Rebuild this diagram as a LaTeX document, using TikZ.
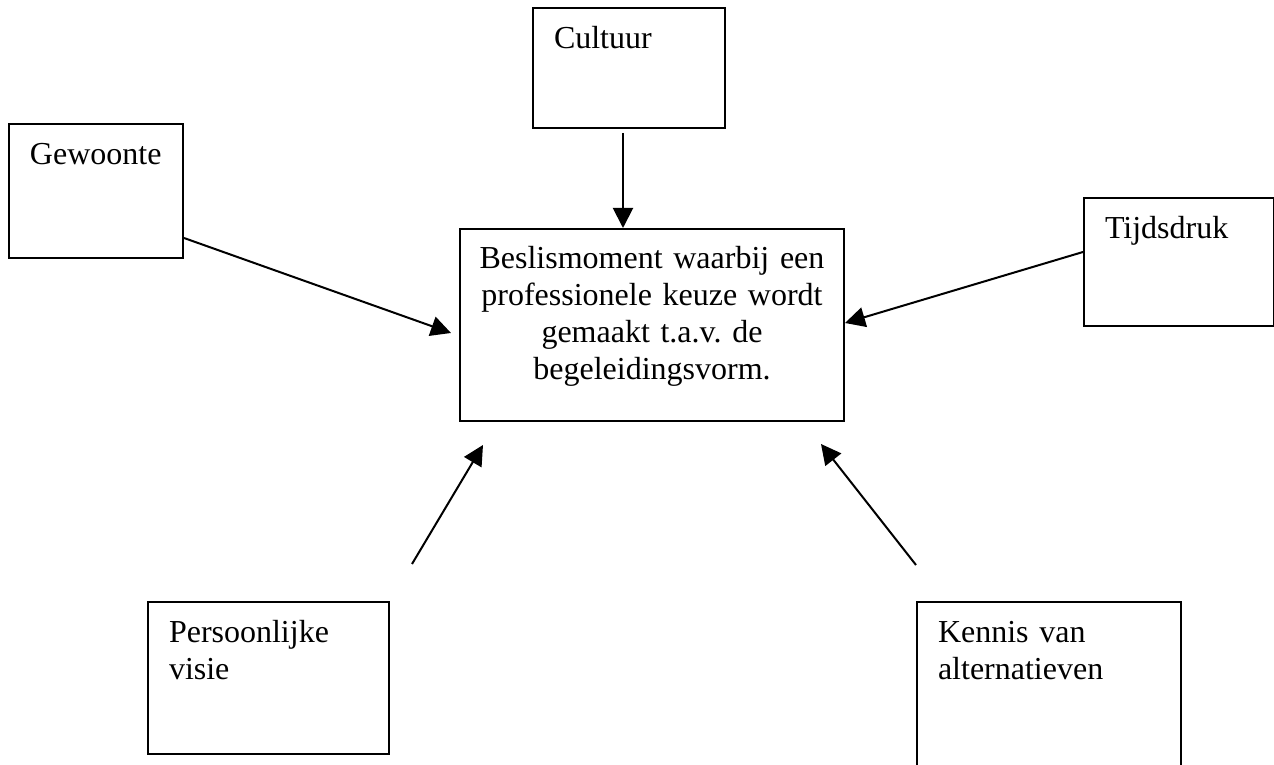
\documentclass[tikz,border=0pt]{standalone}
\usepackage{fontspec}
\setmainfont{Liberation Serif}
\usetikzlibrary{positioning, arrows.meta, calc}
\frenchspacing

\begin{document}
\begin{tikzpicture}[
    x=0.375pt, y=-0.375pt,
    factor/.style={
        rectangle, draw=black, line width=0.75pt, anchor=north west,
        inner xsep=7.875pt, inner ysep=0pt, align=left,
        text height=15.375pt, font=\fontsize{12pt}{13.8pt}\selectfont
    },
    decision/.style={
        factor, inner xsep=3.75pt, align=center, text height=15pt
    },
    influence/.style={-{Triangle[length=7.5pt, width=7.5pt]}, line width=0.75pt}
]
\useasboundingbox (0,0) rectangle (1274,765);
\clip (0,0) rectangle (1274,765);

% Central decision
\node[decision, text width=136.5pt, text depth=57pt] (central) at (459,228)
    {Beslismoment waarbij een\\professionele keuze wordt\\gemaakt t.a.v. de\\begeleidingsvorm.};

% Factors
\node[factor, text width=56.25pt, text depth=29.625pt] (cultuur) at (532,7) {Cultuur};
\node[factor, text width=49.5pt, text depth=34.875pt] (gewoonte) at (8,123) {Gewoonte};
\node[factor, text width=55.5pt, text depth=32.625pt] (tijdsdruk) at (1083,197) {Tijdsdruk};
\node[factor, text width=74.625pt, text depth=41.625pt] (visie) at (147,601) {Persoonlijke\\visie};
\node[factor, text width=83.25pt, text depth=59.625pt] (kennis) at (916,601) {Kennis van\\alternatieven};

% Free arrow ends
\coordinate (cultuur-out) at (623,133);
\coordinate (gewoonte-tip) at (451,333);
\coordinate (visie-out) at (412,564);
\coordinate (visie-tip) at (483,445);
\coordinate (kennis-tip) at (821,444);

% === Influences ===
\draw[influence] (cultuur-out) -- (cultuur-out |- central.north);
\draw[influence] (gewoonte.east |- 0,238) -- (gewoonte-tip);
\draw[influence] (tijdsdruk.west |- 0,252) -- (central.east |- 0,323);
\draw[influence] (visie-out) -- (visie-tip);
\draw[influence] (kennis.west |- 0,565) -- (kennis-tip);

\end{tikzpicture}
\end{document}
